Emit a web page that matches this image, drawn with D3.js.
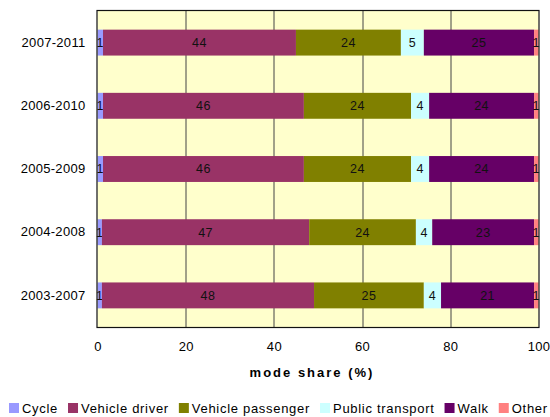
<!DOCTYPE html>
<html>
<head>
<meta charset="utf-8">
<script src="https://cdn.jsdelivr.net/npm/d3@7"></script>
<style>
  body { margin: 0; background: #fff; }
  text { font-family: "Liberation Sans", Arial, sans-serif; }
</style>
</head>
<body>
<div id="wrapper"></div>
<script>
// periods, top to bottom
const periods = ["2007-2011", "2006-2010", "2005-2009", "2004-2008", "2003-2007"]
const modes = ["Cycle", "Vehicle driver", "Vehicle passenger", "Public transport", "Walk", "Other"]
const modeColors = ["#9999FF", "#993366", "#808000", "#CCFFFF", "#660066", "#FF8080"]

// mode share (%) per period, same order as periods
const cycle = [1.25, 1.25, 1.25, 1.0, 1.0]
const vehicleDriver = [43.75, 45.55, 45.55, 47.0, 48.1]
const vehiclePassenger = [23.8, 24.3, 24.3, 24.2, 24.9]
const publicTransport = [5.2, 4.1, 4.1, 3.7, 3.9]
const walk = [25.0, 23.8, 23.8, 23.1, 21.1]
const other = [1.0, 1.0, 1.0, 1.0, 1.0]

const xTicks = [0, 20, 40, 60, 80, 100]

function drawChart() {
    const series = [cycle, vehicleDriver, vehiclePassenger, publicTransport, walk, other]
    const table = periods.map((p, i) => {
        const row = { period: p }
        modes.forEach((m, j) => row[m] = series[j][i])
        return row
    })

    let dimensions = {
        width: 550,
        height: 417,
        margin: { top: 11, right: 11.5, bottom: 90, left: 97.5 },
    }
    dimensions.boundedWidth = dimensions.width - dimensions.margin.left - dimensions.margin.right
    dimensions.boundedHeight = dimensions.height - dimensions.margin.top - dimensions.margin.bottom

    const svg = d3.select('#wrapper')
        .append('svg')
        .attr('width', dimensions.width)
        .attr('height', dimensions.height)

    const bounds = svg.append('g')
        .attr('transform', `translate(${dimensions.margin.left},${dimensions.margin.top})`)

    const xScale = d3.scaleLinear()
        .domain([0, 100])
        .range([0, dimensions.boundedWidth])

    const yScale = d3.scaleBand()
        .domain(periods)
        .range([0, dimensions.boundedHeight])
        .paddingInner(0.59)
        .paddingOuter(0.295)

    //! plot background
    bounds.append('rect')
        .attr('width', dimensions.boundedWidth)
        .attr('height', dimensions.boundedHeight)
        .attr('fill', '#FFFFCC')

    //* gridlines
    bounds.selectAll('.grid')
        .data(xTicks.slice(1, -1))
        .join('line')
        .attr('x1', d => Math.round(xScale(d)) + 0.5)
        .attr('x2', d => Math.round(xScale(d)) + 0.5)
        .attr('y1', 0)
        .attr('y2', dimensions.boundedHeight)
        .attr('stroke', '#444')
        .attr('stroke-width', 1)

    //! bars
    const stacked = d3.stack().keys(modes)(table)
    const layers = bounds.selectAll('.layer')
        .data(stacked)
        .join('g')
        .attr('fill', (d, i) => modeColors[i])

    layers.selectAll('rect')
        .data(d => d)
        .join('rect')
        .attr('x', d => xScale(d[0]))
        .attr('width', d => xScale(d[1]) - xScale(d[0]))
        .attr('y', d => yScale(d.data.period))
        .attr('height', yScale.bandwidth())

    layers.selectAll('text')
        .data(d => d)
        .join('text')
        .attr('x', d => (xScale(d[0]) + xScale(d[1])) / 2)
        .attr('y', d => yScale(d.data.period) + yScale.bandwidth() / 2)
        .attr('dy', '0.35em')
        .attr('text-anchor', 'middle')
        .attr('fill', '#111')
        .style('font-size', '12.5px')
        .style('letter-spacing', '0.4px')
        .text(d => Math.round(d[1] - d[0]))

    //* plot frame
    bounds.append('rect')
        .attr('x', -0.5)
        .attr('y', -0.5)
        .attr('width', dimensions.boundedWidth + 1)
        .attr('height', dimensions.boundedHeight + 1)
        .attr('fill', 'none')
        .attr('stroke', '#111')
        .attr('stroke-width', 1.2)

    //! axes
    const xAxis = d3.axisBottom(xScale)
        .tickValues(xTicks)
        .tickSize(0)
        .tickPadding(15)
    const xAxisGroup = bounds.append('g')
        .attr('transform', `translate(0,${dimensions.boundedHeight})`)
        .call(xAxis)
    xAxisGroup.select('.domain').remove()
    xAxisGroup.selectAll('text')
        .attr('fill', '#000')
        .style('font-size', '13px')
        .style('letter-spacing', '0.3px')
        .style('font-family', '"Liberation Sans", Arial, sans-serif')

    const yAxis = d3.axisLeft(yScale).tickSize(0).tickPadding(12)
    const yAxisGroup = bounds.append('g').call(yAxis)
    yAxisGroup.select('.domain').remove()
    yAxisGroup.selectAll('text')
        .attr('fill', '#000')
        .style('font-size', '13px')
        .style('letter-spacing', '0.3px')
        .style('font-family', '"Liberation Sans", Arial, sans-serif')

    svg.append('text')
        .attr('x', 312)
        .attr('y', 377)
        .attr('text-anchor', 'middle')
        .style('font-size', '13px')
        .style('font-weight', 'bold')
        .style('letter-spacing', '2px')
        .text('mode share (%)')

    //! legend
    const legend = svg.append('g')
    let lx = 9
    modes.forEach((m, i) => {
        legend.append('rect')
            .attr('x', lx)
            .attr('y', 403)
            .attr('width', 10)
            .attr('height', 10)
            .attr('fill', modeColors[i])
        const t = legend.append('text')
            .attr('x', lx + 13)
            .attr('y', 412.5)
            .style('font-size', '13px')
            .style('letter-spacing', '0.7px')
            .text(m)
        lx += 13 + t.node().getBBox().width + 10
    })
}

drawChart()
</script>
</body>
</html>
